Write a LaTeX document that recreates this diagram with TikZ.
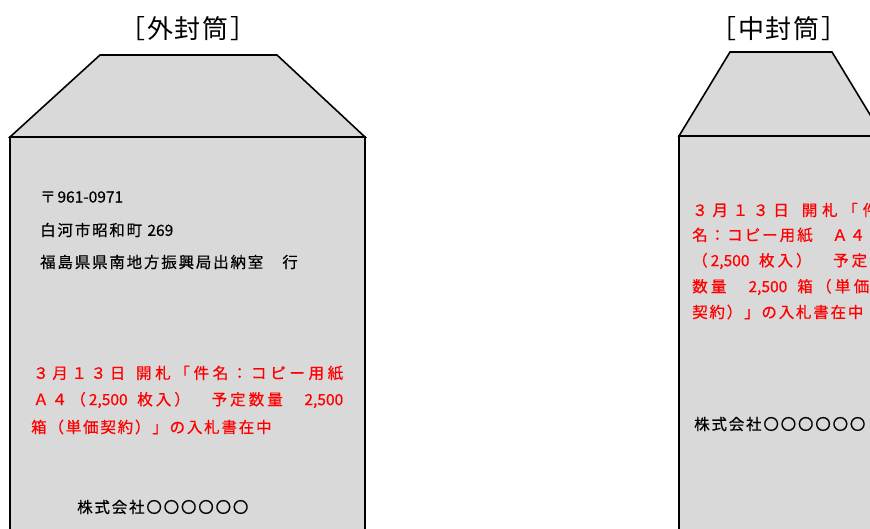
\documentclass[tikz,border=0pt]{standalone}
\usepackage{fontspec}
\newfontfamily\jp{Noto Sans CJK JP}
\newfontfamily\jpb[FakeBold=0.6]{Noto Sans CJK JP}
\definecolor{envgray}{HTML}{D9D9D9}
\definecolor{txtred}{HTML}{FF0000}
\newdimen\chsp
\chsp=1.8pt
\def\spl#1{\ifx\relax#1\else\hskip\chsp plus 1fil #1\expandafter\spl\fi}
\def\spfirst#1{#1\spl}
\newcommand\spaced[2]{\makebox[#1][s]{\spfirst#2\relax}}
\newcommand\lsp[1]{\spfirst#1\relax}
\begin{document}
\begin{tikzpicture}[x=1pt,y=-1pt,
  env/.style={fill=envgray,draw=black,line width=1.6pt,line join=miter},
  title/.style={font=\jp\fontsize{26}{26}\selectfont,inner sep=0pt,anchor=center},
  blk/.style={font=\jpb\fontsize{15.5}{16}\selectfont,inner sep=0pt,anchor=west,text=black},
  rtx/.style={font=\jpb\fontsize{15.5}{16}\selectfont,inner sep=0pt,anchor=west,text=txtred}]
\useasboundingbox (0,0) rectangle (870,528);
\clip (0,0) rectangle (870,528);
% left envelope
\draw[env] (10,137) -- (10,545) -- (365,545) -- (365,137) -- cycle;
\draw[env] (10,137) -- (100,55) -- (277,55) -- (365,137) -- cycle;
% right envelope
\draw[env] (679,136) -- (679,545) -- (883,545) -- (883,136) -- cycle;
\draw[env] (679,136) -- (730,52) -- (832,52) -- (883,136) -- cycle;
% titles
\node[title] (t1) at (188,29) {\lsp{［外封筒］}};
\node[title] (t2) at (779,29) {\lsp{［中封筒］}};
% left texts
\node[blk] (a1) at (40,197) {\lsp{〒{961-0971}}};
\node[blk] (a2) at (40,230) {\lsp{白河市昭和町{\ 269}}};
\node[blk] (a3) at (40,262) {\lsp{福島県県南地方振興局出納室　行}};
\node[rtx] (r1) at (33,373) {\spaced{310pt}{３月１３日{\ }開札「件名：コピー用紙}};
\node[rtx] (r2) at (33,400) {\spaced{310pt}{Ａ４（{2,500}{\ }枚入）　予定数量　{2,500}}};
\node[rtx] (r3) at (31,427) {\lsp{箱（単価契約）」の入札書在中}};
\node[blk] (c1) at (77,507) {\lsp{株式会社〇〇〇〇〇〇}};
% right texts
\node[rtx] (s1) at (692,210) {\spaced{186pt}{３月１３日{\ }開札「件}};
\node[rtx] (s2) at (692,235) {\spaced{173pt}{名：コピー用紙　Ａ４}};
\node[rtx] (s3) at (692,261) {\spaced{175pt}{（{2,500}{\ }枚入）　予定}};
\node[rtx] (s4) at (692,287) {\spaced{177pt}{数量　{2,500}{\ }箱（単価}};
\node[rtx] (s5) at (692,312) {\lsp{契約）」の入札書在中}};
\node[blk] (c2) at (694,424) {\lsp{株式会社〇〇〇〇〇〇}};
\end{tikzpicture}
\end{document}
